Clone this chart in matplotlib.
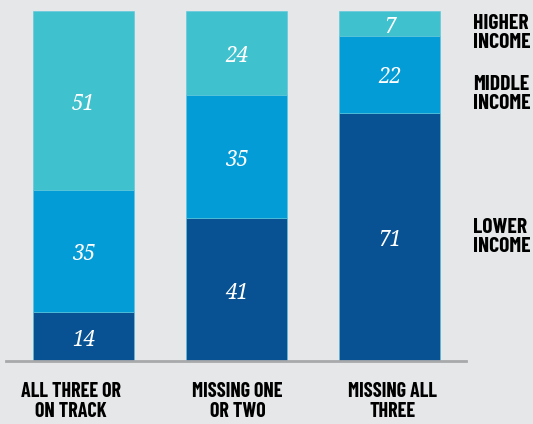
import matplotlib.pyplot as plt
import matplotlib.transforms as mtransforms
import numpy as np

categories = ['ALL THREE OR\nON TRACK', 'MISSING ONE\nOR TWO', 'MISSING ALL\nTHREE']
lower = [14, 41, 71]
middle = [35, 35, 22]
higher = [51, 24, 7]
series_names = ['LOWER\nINCOME', 'MIDDLE\nINCOME', 'HIGHER\nINCOME']
colors = ['#085294', '#049cd6', '#40c1ce']

bg = '#e6e7e9'
narrow = ['Barlow Condensed', 'DejaVu Sans']
serif = ['Noto Serif', 'DejaVu Serif']

fig = plt.figure(figsize=(5.33, 4.24), dpi=100, facecolor=bg)
ax = fig.add_axes([6 / 533, 63 / 424, 460 / 533, 350 / 424])
ax.set_facecolor(bg)

# numbers sit a little below the middle of each segment
num_tr = mtransforms.offset_copy(ax.transData, fig=fig, x=0, y=-2.5, units='points')

x = np.arange(len(categories))
bottom = np.zeros(len(categories))
for vals, c in zip([lower, middle, higher], colors):
    ax.bar(x, vals, 0.66, bottom=bottom, color=c, edgecolor='#5cc6dc', linewidth=0.4)
    for xi, v, b in zip(x, vals, bottom):
        ax.text(xi, b + v / 2, str(v), ha='center', va='center', color='white',
                fontsize=15, style='italic', family=serif, transform=num_tr)
    bottom += vals

ax.set_xlim(-0.507, 2.5)
ax.set_ylim(0, 100)
for s in ['top', 'right', 'left']:
    ax.spines[s].set_visible(False)
ax.spines['bottom'].set_color('#a8a9ab')
ax.spines['bottom'].set_linewidth(2)
ax.set_yticks([])
ax.set_xticks(x)
ax.set_xticklabels(categories, family=narrow, weight='bold', fontsize=14.5,
                   linespacing=1.1)
ax.tick_params(axis='x', length=0, pad=15)
# first label is pushed left in the original
shifts = [-13, 1, 3]
for lab, dx in zip(ax.get_xticklabels(), shifts):
    lab.set_transform(lab.get_transform() + mtransforms.ScaledTranslation(dx / 100, 0, fig.dpi_scale_trans))

# legend labels on the right
label_y = [237, 94, 33]
for name, yy in zip(series_names, label_y):
    fig.text(473 / 533, 1 - yy / 424, name, ha='left', va='center', family=narrow,
             weight='bold', fontsize=15.5, linespacing=0.95)

fig.savefig('out.png', dpi=100, facecolor=bg)
